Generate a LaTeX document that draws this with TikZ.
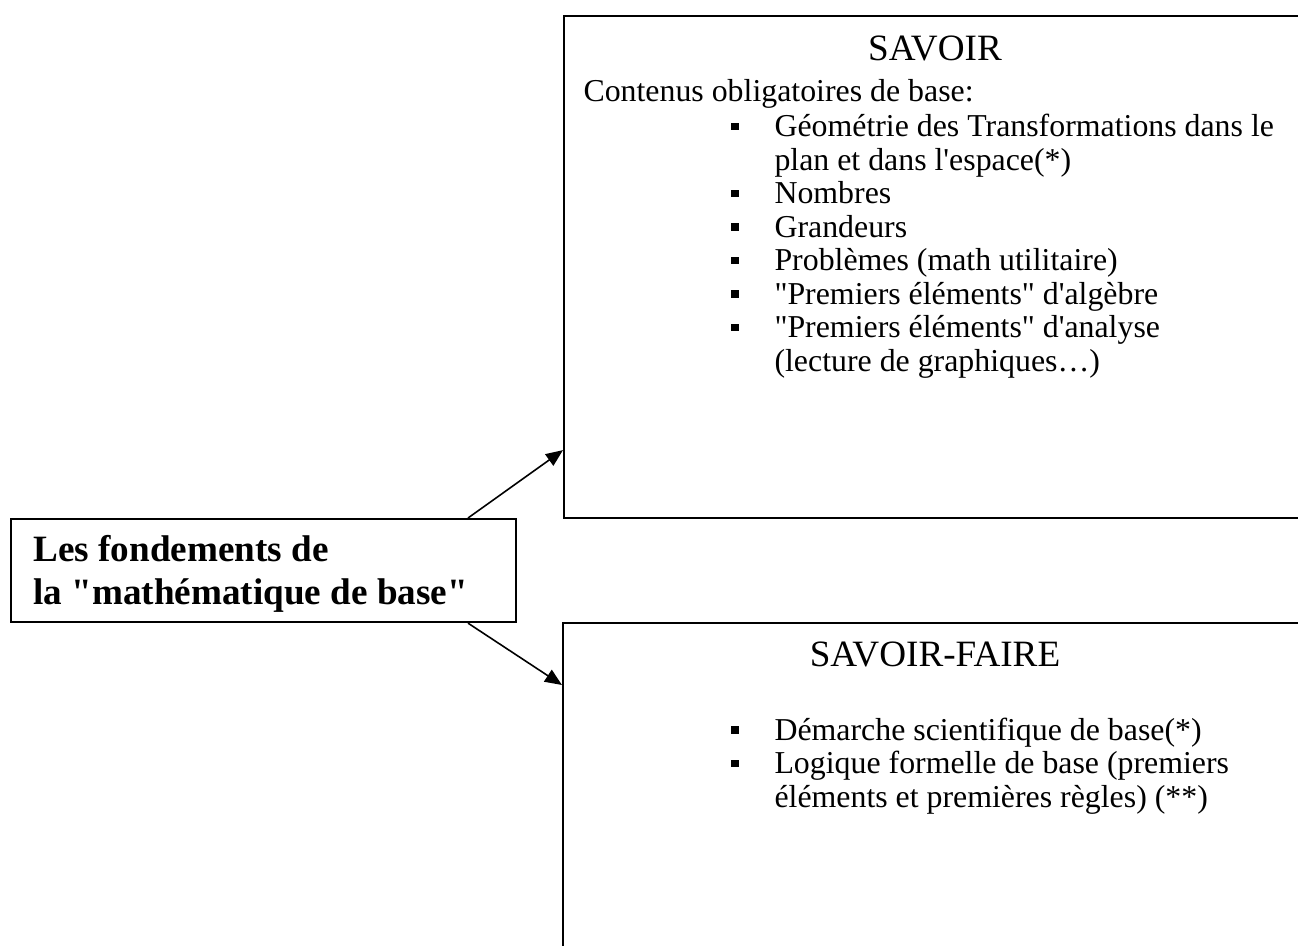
\documentclass[tikz,border=0pt]{standalone}
\usepackage{fontspec}
\setmainfont{Liberation Serif}[Ligatures=TeXOff]
\usetikzlibrary{arrows.meta,calc}
% one drawing unit
\newcommand{\pxu}{0.3768pt}
\begin{document}
\begin{tikzpicture}[x=\pxu,y=-\pxu,
  frame/.style={draw,line width=0.8pt,inner sep=0pt,anchor=north west},
  txt/.style={anchor=base west,inner sep=0pt,font=\fontsize{12}{13.8}\selectfont},
  ttl/.style={anchor=base,inner sep=0pt,font=\fontsize{14}{16.1}\selectfont},
  lead/.style={anchor=base west,inner sep=0pt,font=\fontsize{14}{16.1}\selectfont\bfseries},
  sq/.style={fill,inner sep=0pt,minimum size=7.5*\pxu,anchor=center},
  link/.style={line width=0.6pt,-{Triangle[length=17*\pxu,width=14*\pxu]}}]
\useasboundingbox (0,0) rectangle (1298,945);
\clip (0,0) rectangle (1298,945);

% boxes
\node[frame,minimum width=505*\pxu,minimum height=103*\pxu] (fond) at (10,518) {};
\node[frame,minimum width=770*\pxu,minimum height=502*\pxu] (savoir) at (563,15) {};
\node[frame,minimum width=770*\pxu,minimum height=340*\pxu] (faire) at (562,622) {};

% central label
\node[lead] (l1) at (33,561) {Les fondements de};
\node[lead] (l2) at (33,604) {la "mathématique de base"};

% connectors
\draw[link] ($(fond.north west)+(458,0)$) -- ($(savoir.south west)+(0,-69)$);
\draw[link] ($(fond.south west)+(458,0)$) -- ($(faire.north west)+(0,63)$);

% SAVOIR
\node[ttl] (t1) at (935,60) {SAVOIR};
\node[txt] (c0) at (583,101) {Contenus obligatoires de base:};
\node[txt] (s1) at (774,136.6) {Géométrie des Transformations dans le};
\node[txt] (s1b) at (774,170.1) {plan et dans l'espace(*)};
\node[txt] (s2) at (774,203.6) {Nombres};
\node[txt] (s3) at (774,237.1) {Grandeurs};
\node[txt] (s4) at (774,270.6) {Problèmes (math utilitaire)};
\node[txt] (s5) at (774,304.1) {"Premiers éléments" d'algèbre};
\node[txt] (s6) at (774,337.6) {"Premiers éléments" d'analyse};
\node[txt] (s6b) at (774,371.1) {(lecture de graphiques…)};
\foreach \y [count=\i] in {136.6,203.6,237.1,270.6,304.1,337.6}
  \node[sq] (b\i) at (735,\y-10) {};

% SAVOIR-FAIRE
\node[ttl] (t2) at (935,666) {SAVOIR-FAIRE};
\node[txt] (f1) at (774,740) {Démarche scientifique de base(*)};
\node[txt] (f2) at (774,773.5) {Logique formelle de base (premiers};
\node[txt] (f2b) at (774,807) {éléments et premières règles) (**)};
\foreach \y [count=\i] in {740,773.5}
  \node[sq] (fb\i) at (735,\y-10) {};
\end{tikzpicture}
\end{document}
